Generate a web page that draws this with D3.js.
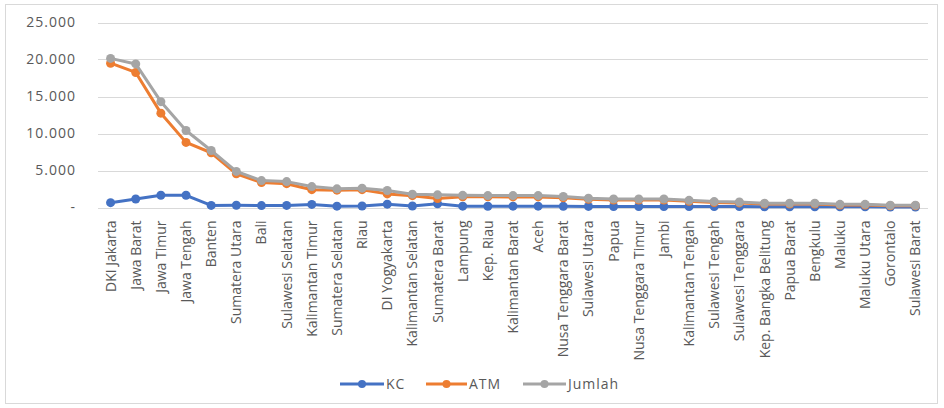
<!DOCTYPE html>
<html>
<head>
<meta charset="utf-8">
<script src="https://cdn.jsdelivr.net/npm/d3@7"></script>
<style>
  html, body { margin: 0; padding: 0; background: #fff; }
  svg { display: block; font-family: "Open Sans", "Noto Sans", sans-serif; }
</style>
</head>
<body>
<svg id="chart" width="944" height="408"></svg>
<script>
// Provinces, ordered by total count
const provinces = [
  "DKI Jakarta", "Jawa Barat", "Jawa Timur", "Jawa Tengah", "Banten",
  "Sumatera Utara", "Bali", "Sulawesi Selatan", "Kalimantan Timur", "Sumatera Selatan",
  "Riau", "DI Yogyakarta", "Kalimantan Selatan", "Sumatera Barat", "Lampung",
  "Kep. Riau", "Kalimantan Barat", "Aceh", "Nusa Tenggara Barat", "Sulawesi Utara",
  "Papua", "Nusa Tenggara Timur", "Jambi", "Kalimantan Tengah", "Sulawesi Tengah",
  "Sulawesi Tenggara", "Kep. Bangka Belitung", "Papua Barat", "Bengkulu", "Maluku",
  "Maluku Utara", "Gorontalo", "Sulawesi Barat"
];

const kc = [
  650, 1150, 1650, 1650, 280,
  300, 260, 280, 420, 180,
  200, 450, 200, 500, 180,
  170, 180, 180, 160, 150,
  140, 140, 140, 130, 120,
  120, 100, 100, 100, 90,
  90, 70, 70
];

const atm = [
  19500, 18250, 12750, 8800, 7400,
  4560, 3380, 3220, 2410, 2340,
  2410, 1840, 1600, 1210, 1460,
  1440, 1430, 1430, 1320, 1100,
  1010, 1010, 1010, 840, 680,
  620, 470, 470, 470, 340,
  340, 230, 230
];

const jumlah = [
  20150, 19400, 14300, 10400, 7700,
  4880, 3640, 3500, 2830, 2520,
  2610, 2290, 1800, 1710, 1640,
  1610, 1610, 1610, 1480, 1250,
  1150, 1150, 1150, 970, 800,
  740, 570, 570, 570, 430,
  430, 300, 300
];

const yTicks = [0, 5000, 10000, 15000, 20000, 25000];

const seriesNames = ["KC", "ATM", "Jumlah"];
const seriesColors = ["#4472C4", "#ED7D31", "#A5A5A5"];
const seriesValues = [kc, atm, jumlah];

const svg = d3.select("#chart");
const textColor = "#595959";
const gridColor = "#D9D9D9";

// Outer chart frame
svg.append("rect")
  .attr("x", 5.5).attr("y", 4.5)
  .attr("width", 932).attr("height", 399)
  .attr("fill", "none").attr("stroke", gridColor).attr("stroke-width", 1);

const plot = { left: 98, right: 928, top: 22.5, bottom: 207.5 };

const x = d3.scaleBand()
  .domain(provinces)
  .range([plot.left, plot.right]);

const y = d3.scaleLinear()
  .domain([0, 25000])
  .range([plot.bottom, plot.top]);

const fmt = v => v === 0 ? "-" : d3.format(",")(v).replace(/,/g, ".");

// Horizontal gridlines
svg.append("g")
  .selectAll("line")
  .data(yTicks)
  .join("line")
  .attr("x1", plot.left).attr("x2", plot.right)
  .attr("y1", d => Math.round(y(d)) + 0.5)
  .attr("y2", d => Math.round(y(d)) + 0.5)
  .attr("stroke", gridColor).attr("stroke-width", 1);

// Y axis labels
const yAxis = d3.axisLeft(y).tickValues(yTicks).tickFormat(fmt).tickSize(0).tickPadding(0);
const yG = svg.append("g")
  .attr("transform", `translate(76,0)`)
  .call(yAxis);
yG.select(".domain").remove();
yG.selectAll("text")
  .attr("fill", textColor)
  .attr("font-size", 14)
  .attr("letter-spacing", "1px")
  .attr("font-family", "Open Sans, Noto Sans, sans-serif");

// X axis labels, rotated
const xAxis = d3.axisBottom(x).tickSize(0).tickPadding(0);
const xG = svg.append("g")
  .attr("transform", `translate(0,${plot.bottom})`)
  .call(xAxis);
xG.select(".domain").remove();
xG.selectAll("text")
  .attr("fill", textColor)
  .attr("font-size", 14)
  .attr("font-family", "Open Sans, Noto Sans, sans-serif")
  .attr("text-anchor", "end")
  .attr("dy", null)
  .attr("y", 0)
  .attr("transform", "translate(5,13) rotate(-90)");

// Series lines and markers
const line = d3.line()
  .x((d, i) => x(provinces[i]) + x.bandwidth() / 2)
  .y(d => y(d));

seriesValues.forEach((vals, s) => {
  const g = svg.append("g");
  g.append("path")
    .datum(vals)
    .attr("d", line)
    .attr("fill", "none")
    .attr("stroke", seriesColors[s])
    .attr("stroke-width", 3)
    .attr("stroke-linejoin", "round")
    .attr("stroke-linecap", "round");
  g.selectAll("circle")
    .data(vals)
    .join("circle")
    .attr("cx", (d, i) => x(provinces[i]) + x.bandwidth() / 2)
    .attr("cy", d => y(d))
    .attr("r", 4.5)
    .attr("fill", seriesColors[s]);
});

// Legend
const legendItems = [
  { x: 340, w: 44 },
  { x: 426, w: 41 },
  { x: 523, w: 43 }
];
const legendY = 384;
const legend = svg.append("g");
seriesNames.forEach((name, s) => {
  const it = legendItems[s];
  legend.append("line")
    .attr("x1", it.x).attr("x2", it.x + it.w)
    .attr("y1", legendY).attr("y2", legendY)
    .attr("stroke", seriesColors[s]).attr("stroke-width", 3);
  legend.append("circle")
    .attr("cx", it.x + it.w / 2).attr("cy", legendY)
    .attr("r", 4).attr("fill", seriesColors[s]);
  legend.append("text")
    .attr("x", it.x + it.w + 2).attr("y", legendY)
    .attr("dy", "0.36em")
    .attr("fill", textColor)
    .attr("font-size", 14)
    .attr("letter-spacing", "1px")
    .text(name);
});
</script>
</body>
</html>
